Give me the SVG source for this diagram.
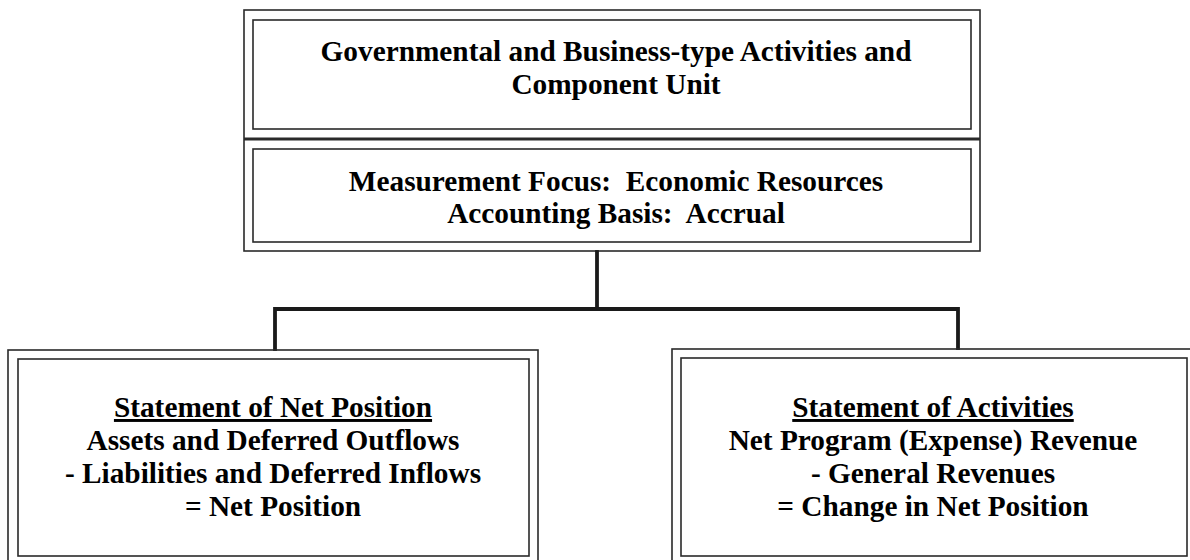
<svg xmlns="http://www.w3.org/2000/svg" width="1190" height="560" viewBox="0 0 1190 560">
  <style>
    .frame { fill: none; stroke: #2a2a2a; stroke-width: 1.6; }
    .divider { fill: none; stroke: #2a2a2a; stroke-width: 2.8; }
    .wire { fill: none; stroke: #1a1a1a; stroke-width: 3.8; stroke-linecap: square; }
    .label { font-family: "Liberation Serif", "Times New Roman", serif; font-weight: bold; font-size: 29.3px; fill: #000; text-anchor: middle; }
    .head { text-decoration: underline; }
  </style>
  <rect width="1190" height="560" fill="#ffffff"/>

  <!-- outer double frame of the two stacked header boxes -->
  <g id="header-frame">
    <rect class="frame" x="244" y="10" width="736" height="241"/>
    <line class="divider" x1="244" y1="139" x2="980" y2="139"/>
  </g>

  <g id="activities-box">
    <rect class="frame" x="253" y="20" width="718" height="109"/>
    <text class="label" x="616" y="61">Governmental and Business-type Activities and</text>
    <text class="label" x="616" y="94">Component Unit</text>
  </g>

  <g id="basis-box">
    <rect class="frame" x="253" y="149" width="718" height="93"/>
    <text class="label" x="616" y="191" xml:space="preserve">Measurement Focus:  Economic Resources</text>
    <text class="label" x="616" y="223" xml:space="preserve">Accounting Basis:  Accrual</text>
  </g>

  <!-- tree connectors -->
  <g id="connectors">
    <polyline class="wire" points="597,252 597,309"/>
    <polyline class="wire" points="275,349 275,309 958,309 958,348"/>
  </g>

  <g id="net-position-box">
    <rect class="frame" x="8" y="350" width="530" height="216"/>
    <rect class="frame" x="18" y="359" width="511" height="197"/>
    <text class="label head" x="273" y="417">Statement of Net Position</text>
    <text class="label" x="273" y="450">Assets and Deferred Outflows</text>
    <text class="label" x="273" y="483">- Liabilities and Deferred Inflows</text>
    <text class="label" x="273" y="516">= Net Position</text>
  </g>

  <g id="activities-statement-box">
    <rect class="frame" x="672" y="349" width="526" height="217"/>
    <rect class="frame" x="681" y="358" width="506" height="198"/>
    <text class="label head" x="933" y="417">Statement of Activities</text>
    <text class="label" x="933" y="450">Net Program (Expense) Revenue</text>
    <text class="label" x="933" y="483">- General Revenues</text>
    <text class="label" x="933" y="516">= Change in Net Position</text>
  </g>
</svg>
